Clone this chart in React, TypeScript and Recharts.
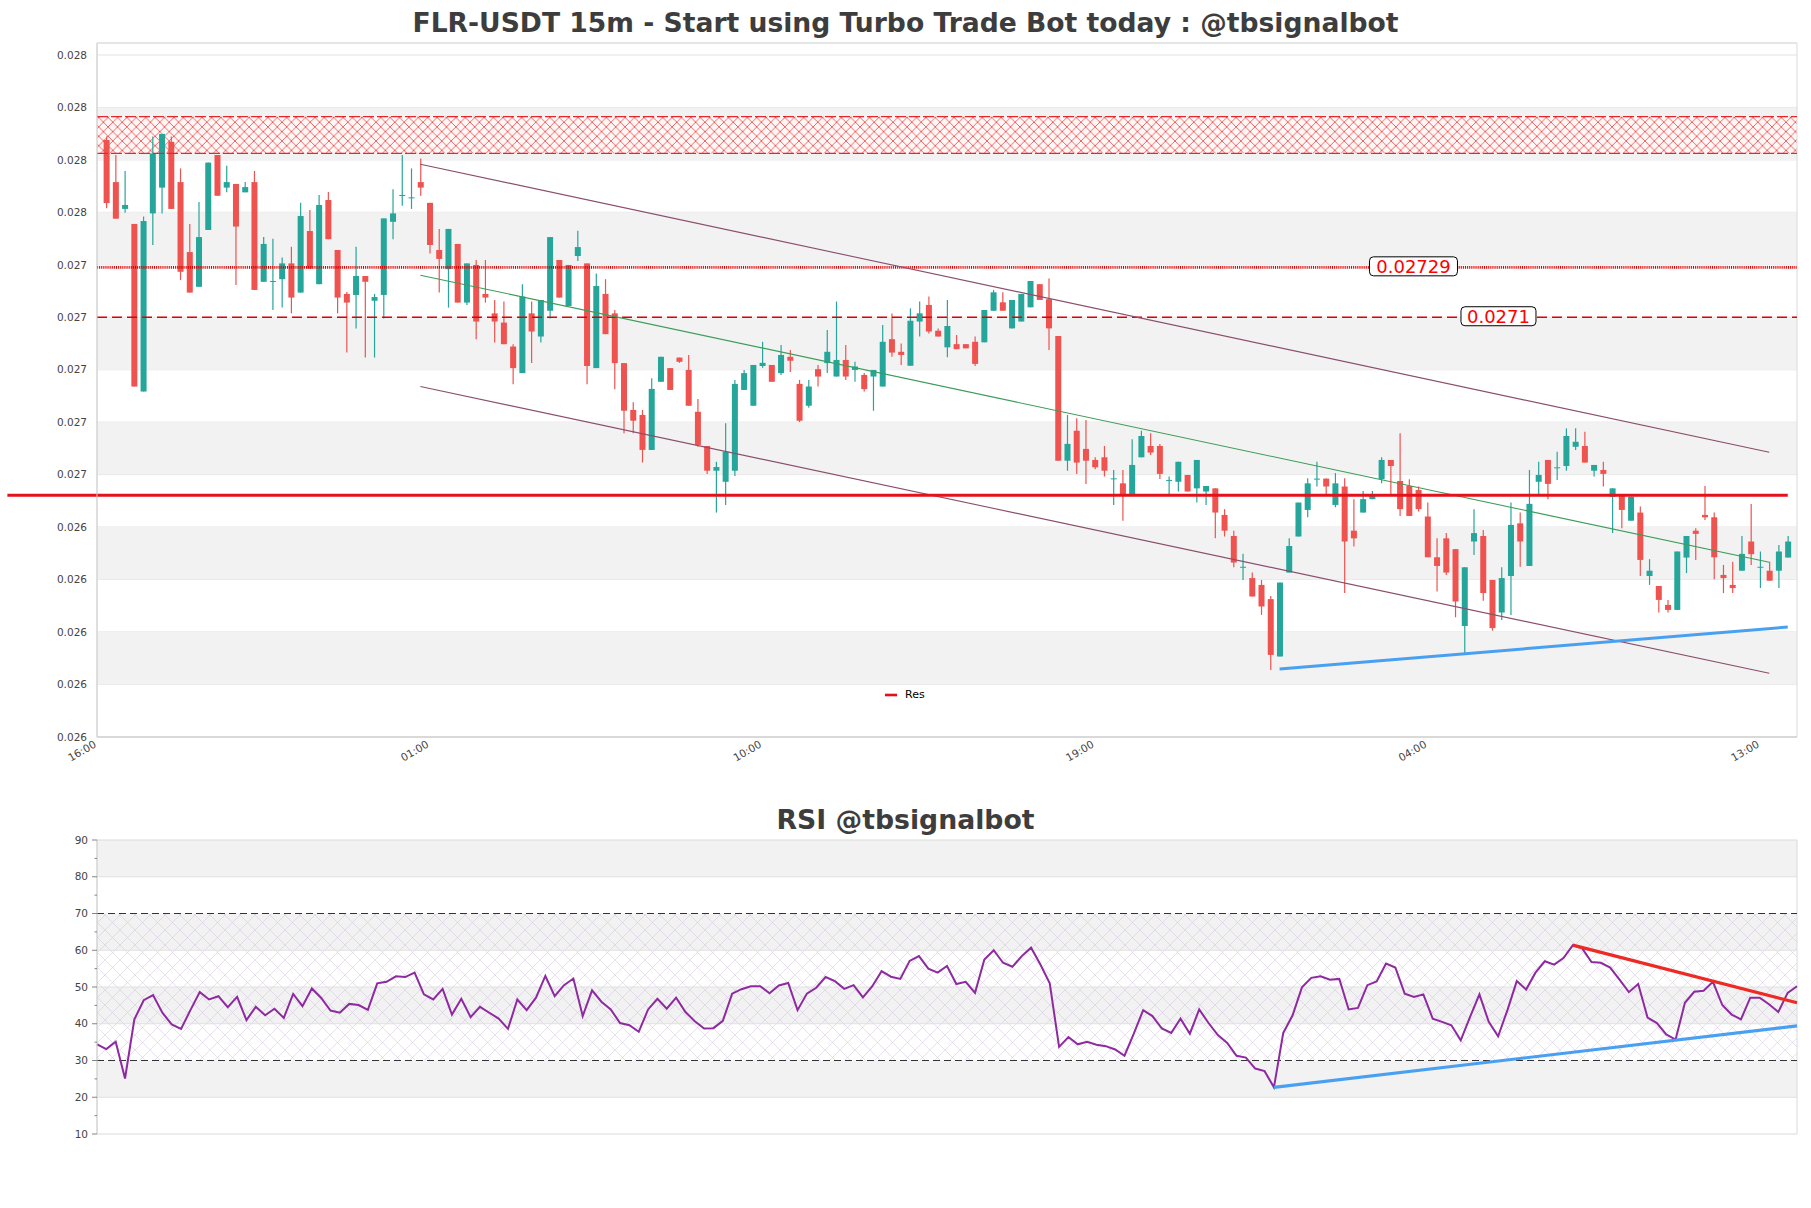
import React from 'react';
import {
  ComposedChart,
  Bar,
  Line,
  XAxis,
  YAxis,
  CartesianGrid,
  ReferenceLine,
  ReferenceArea,
} from 'recharts';

// ---------------- DATA ----------------
const chartTitle = 'FLR-USDT 15m - Start using Turbo Trade Bot today : @tbsignalbot';
const rsiTitle = 'RSI @tbsignalbot';

// x tick positions (candle index) and their labels
const timeTickIdx = [-1, 35, 71, 107, 143, 179];
const timeLabels = ['16:00', '01:00', '10:00', '19:00', '04:00', '13:00'];

const opens = [
  0.027777, 0.027617, 0.027515, 0.027458, 0.026821, 0.027498, 0.027596, 0.02777, 0.027617, 0.027351,
  0.027219, 0.027435, 0.02772, 0.027596, 0.02761, 0.027578, 0.027617, 0.027238, 0.027238, 0.027248,
  0.027308, 0.027197, 0.027431, 0.027229, 0.027549, 0.027359, 0.027192, 0.027188, 0.02726, 0.027166,
  0.027188, 0.027466, 0.027565, 0.027557, 0.027617, 0.027538, 0.027359, 0.027286, 0.027382, 0.027159,
  0.027302, 0.027192, 0.027118, 0.027083, 0.026992, 0.026891, 0.027118, 0.02703, 0.027128, 0.027321,
  0.027146, 0.027336, 0.027308, 0.02691, 0.027192, 0.027118, 0.026929, 0.026751, 0.026732, 0.026599,
  0.026858, 0.02691, 0.02695, 0.026903, 0.026744, 0.026614, 0.02652, 0.026478, 0.02652, 0.026827,
  0.026767, 0.026918, 0.026922, 0.026891, 0.026953, 0.02685, 0.026767, 0.026906, 0.026929, 0.026878,
  0.026941, 0.026903, 0.026884, 0.026878, 0.02684, 0.02702, 0.026972, 0.026919, 0.027087, 0.02715,
  0.027052, 0.026989, 0.027001, 0.027001, 0.02701, 0.027008, 0.027128, 0.02716, 0.027061, 0.027087,
  0.027141, 0.027229, 0.027172, 0.027032, 0.026558, 0.026672, 0.026603, 0.026561, 0.026571, 0.026489,
  0.026472, 0.026424, 0.026571, 0.026614, 0.026614, 0.026482, 0.026478, 0.026504, 0.026453, 0.026441,
  0.026453, 0.026352, 0.026272, 0.026153, 0.026112, 0.026086, 0.026032, 0.025814, 0.026133, 0.02627,
  0.026371, 0.026488, 0.02649, 0.02639, 0.02646, 0.026292, 0.026361, 0.026412, 0.026488, 0.026561,
  0.026481, 0.026462, 0.026447, 0.026346, 0.026191, 0.026263, 0.026222, 0.02593, 0.026251, 0.026272,
  0.026105, 0.025981, 0.02612, 0.02632, 0.026158, 0.026478, 0.026561, 0.026531, 0.026538, 0.026611,
  0.026614, 0.02652, 0.026523, 0.026421, 0.026424, 0.02633, 0.026361, 0.02612, 0.026082, 0.02601,
  0.025991, 0.02619, 0.026292, 0.026352, 0.026343, 0.026124, 0.026086, 0.02614, 0.026251, 0.026153,
  0.02614, 0.02614, 0.02619,
];

const highs = [
  0.02779, 0.02772, 0.027659, 0.027458, 0.027486, 0.02779, 0.0278, 0.02779, 0.027669, 0.027458,
  0.027541, 0.027691, 0.02772, 0.027679, 0.02761, 0.027617, 0.027659, 0.027408, 0.027402, 0.02733,
  0.027371, 0.027538, 0.027511, 0.027568, 0.027579, 0.027359, 0.027199, 0.027371, 0.02726, 0.027192,
  0.027479, 0.02759, 0.02772, 0.027669, 0.027707, 0.027538, 0.027439, 0.027439, 0.027382, 0.027308,
  0.027321, 0.027321, 0.027169, 0.027163, 0.027001, 0.027229, 0.027163, 0.027169, 0.027408, 0.027321,
  0.027302, 0.027432, 0.027308, 0.02727, 0.027248, 0.027131, 0.026929, 0.02678, 0.026751, 0.026871,
  0.026953, 0.02691, 0.02695, 0.02696, 0.026793, 0.026614, 0.026554, 0.0267, 0.026865, 0.026903,
  0.026922, 0.02701, 0.026922, 0.026998, 0.026979, 0.026865, 0.026865, 0.026922, 0.027055, 0.027163,
  0.026998, 0.026934, 0.026891, 0.026903, 0.027074, 0.027118, 0.027004, 0.027137, 0.027163, 0.027182,
  0.027061, 0.027169, 0.027036, 0.027001, 0.02703, 0.027131, 0.027207, 0.027198, 0.027169, 0.027192,
  0.027241, 0.027229, 0.027251, 0.027032, 0.026732, 0.026719, 0.026713, 0.026571, 0.026614, 0.026523,
  0.026523, 0.02664, 0.026672, 0.026662, 0.026622, 0.026498, 0.026554, 0.026504, 0.026561, 0.026462,
  0.026453, 0.026374, 0.026292, 0.026204, 0.026133, 0.026105, 0.026044, 0.026095, 0.026263, 0.026399,
  0.026491, 0.026554, 0.02649, 0.026511, 0.026491, 0.026412, 0.026443, 0.026443, 0.026571, 0.026561,
  0.026662, 0.026488, 0.02646, 0.026399, 0.026263, 0.026283, 0.026222, 0.026153, 0.026374, 0.026295,
  0.026105, 0.026153, 0.026399, 0.026361, 0.026523, 0.026554, 0.026561, 0.026592, 0.026681, 0.026681,
  0.026668, 0.026542, 0.026554, 0.026453, 0.026424, 0.026421, 0.026384, 0.026184, 0.026082, 0.026029,
  0.026213, 0.026272, 0.026301, 0.026462, 0.026361, 0.026162, 0.026174, 0.026272, 0.026394, 0.026213,
  0.026174, 0.026238, 0.026272,
];

const lows = [
  0.027518, 0.027478, 0.0275, 0.02684, 0.026821, 0.027378, 0.027498, 0.027515, 0.027245, 0.027197,
  0.027219, 0.027435, 0.027565, 0.027578, 0.027226, 0.027578, 0.027207, 0.027238, 0.027131, 0.02714,
  0.027118, 0.027197, 0.027288, 0.027229, 0.0274, 0.027118, 0.026969, 0.027061, 0.02695, 0.02695,
  0.027099, 0.0274, 0.027527, 0.027515, 0.027565, 0.027346, 0.027197, 0.02714, 0.027159, 0.02715,
  0.02702, 0.027159, 0.027007, 0.027001, 0.026849, 0.026891, 0.026929, 0.027007, 0.027099, 0.027178,
  0.027146, 0.027317, 0.026849, 0.02691, 0.027039, 0.02683, 0.026662, 0.026662, 0.026551, 0.026599,
  0.026858, 0.026827, 0.02693, 0.026767, 0.026611, 0.026508, 0.026361, 0.02639, 0.0265, 0.026827,
  0.026767, 0.026911, 0.026858, 0.026884, 0.026895, 0.026705, 0.026759, 0.02684, 0.026891, 0.026878,
  0.026865, 0.026858, 0.026821, 0.026748, 0.02684, 0.026953, 0.026922, 0.026919, 0.02703, 0.027042,
  0.02703, 0.026951, 0.026982, 0.026985, 0.026918, 0.027008, 0.027127, 0.027128, 0.027061, 0.027087,
  0.027141, 0.027169, 0.026979, 0.026558, 0.02652, 0.026508, 0.02647, 0.026526, 0.026498, 0.02639,
  0.02633, 0.026424, 0.026571, 0.02658, 0.026489, 0.026428, 0.026441, 0.026441, 0.026399, 0.02639,
  0.026263, 0.02627, 0.026153, 0.026105, 0.026042, 0.025972, 0.025763, 0.025814, 0.026133, 0.02627,
  0.026343, 0.02646, 0.026428, 0.026381, 0.026055, 0.026232, 0.026361, 0.026412, 0.026472, 0.026428,
  0.026348, 0.026348, 0.026365, 0.026191, 0.026061, 0.026124, 0.025963, 0.02582, 0.0262, 0.026026,
  0.025912, 0.025953, 0.025972, 0.026155, 0.026158, 0.026428, 0.026412, 0.026485, 0.02652, 0.026599,
  0.026551, 0.026498, 0.02646, 0.026283, 0.026301, 0.02633, 0.02612, 0.026086, 0.025981, 0.025981,
  0.025991, 0.026131, 0.026181, 0.026333, 0.026108, 0.026055, 0.026055, 0.02614, 0.026162, 0.026074,
  0.026102, 0.026074, 0.02619,
];

const closes = [
  0.027537, 0.027478, 0.02753, 0.02684, 0.027469, 0.027726, 0.0278, 0.027515, 0.027276, 0.027197,
  0.027408, 0.027691, 0.027565, 0.027617, 0.027448, 0.027598, 0.027207, 0.027382, 0.027241, 0.027308,
  0.027178, 0.027488, 0.027288, 0.02753, 0.0274, 0.027178, 0.027159, 0.02726, 0.027238, 0.02718,
  0.027479, 0.027498, 0.027568, 0.027559, 0.027596, 0.027378, 0.027325, 0.027439, 0.027159, 0.027308,
  0.027087, 0.027178, 0.027087, 0.027001, 0.02691, 0.027182, 0.027049, 0.027169, 0.027408, 0.027178,
  0.027302, 0.02737, 0.026918, 0.027222, 0.027039, 0.026929, 0.026748, 0.02671, 0.026599, 0.026831,
  0.026953, 0.026827, 0.026934, 0.026767, 0.026618, 0.02652, 0.026534, 0.026592, 0.02685, 0.026891,
  0.026922, 0.02693, 0.026858, 0.02696, 0.026938, 0.02671, 0.02684, 0.026878, 0.026972, 0.026941,
  0.026878, 0.026916, 0.02683, 0.026903, 0.02701, 0.026969, 0.02696, 0.02709, 0.027118, 0.027049,
  0.02703, 0.02707, 0.026982, 0.026985, 0.026926, 0.027131, 0.027198, 0.027128, 0.027169, 0.027192,
  0.027241, 0.027169, 0.027061, 0.026558, 0.026622, 0.026551, 0.026558, 0.026533, 0.02652, 0.026491,
  0.026424, 0.026542, 0.026652, 0.026589, 0.026508, 0.026485, 0.026554, 0.026441, 0.026561, 0.026462,
  0.026361, 0.026292, 0.026171, 0.026155, 0.026042, 0.026004, 0.02582, 0.026095, 0.026234, 0.026399,
  0.026472, 0.02649, 0.02646, 0.026472, 0.026251, 0.026263, 0.026412, 0.026431, 0.026561, 0.026538,
  0.026374, 0.026348, 0.026374, 0.026191, 0.026158, 0.026133, 0.026023, 0.026153, 0.026283, 0.026055,
  0.025922, 0.026112, 0.026314, 0.026251, 0.026394, 0.026504, 0.02647, 0.026533, 0.026652, 0.02663,
  0.026551, 0.026542, 0.026508, 0.026453, 0.026371, 0.026421, 0.026181, 0.02614, 0.026029, 0.025991,
  0.026213, 0.026272, 0.02628, 0.026343, 0.026191, 0.026112, 0.026074, 0.026204, 0.026203, 0.026155,
  0.026102, 0.026213, 0.026251,
];

const rsiValues = [
  34.4, 33.1, 35.1, 25.1, 41.2, 46.4, 47.8, 43.0, 39.8, 38.6,
  43.7, 48.6, 46.6, 47.5, 44.5, 47.3, 41.0, 44.6, 42.3, 44.1,
  41.6, 48.1, 44.8, 49.6, 47.0, 43.6, 43.0, 45.4, 45.1, 43.8,
  51.0, 51.4, 52.9, 52.7, 53.9, 48.0, 46.6, 49.5, 42.5, 46.8,
  41.8, 44.6, 43.0, 41.4, 38.6, 46.6, 43.7, 47.1, 53.0, 47.5,
  50.5, 52.3, 42.1, 49.1, 46.0, 43.9, 40.2, 39.6, 37.8, 43.9,
  46.8, 44.1, 47.1, 43.2, 40.7, 38.7, 38.8, 40.8, 48.2, 49.4,
  50.2, 50.2, 48.3, 50.4, 51.1, 43.7, 48.2, 49.8, 52.7, 51.6,
  49.5, 50.5, 47.2, 50.2, 54.3, 52.8, 52.2, 57.1, 58.4, 55.0,
  53.9, 55.7, 50.8, 51.4, 48.4, 57.5, 60.0, 56.6, 55.5, 58.4,
  60.7, 56.1, 51.0, 33.7, 36.4, 34.4, 35.1, 34.3, 33.9, 33.0,
  31.3, 37.3, 43.7, 42.1, 38.7, 37.5, 41.4, 37.3, 43.9, 40.2,
  36.9, 34.8, 31.3, 30.8, 27.8, 27.1, 22.7, 37.5, 42.3, 49.9,
  52.5, 52.9, 52.0, 52.2, 43.9, 44.3, 50.5, 51.5, 56.4, 55.3,
  48.2, 47.3, 48.0, 41.4, 40.5, 39.6, 35.5, 41.9, 48.0, 40.5,
  36.6, 43.7, 51.6, 49.3, 53.9, 57.0, 56.1, 57.9, 61.4, 60.5,
  56.8, 56.6, 55.3, 52.0, 48.6, 50.8, 41.7, 40.2, 37.1, 35.7,
  45.7, 48.7, 49.0, 51.4, 45.1, 42.5, 41.2, 47.1, 47.1, 45.3,
  43.2, 48.4, 50.2,
];

// price axis (tick values read at the gridline positions; labels as printed)
const priceDomain = [0.025508, 0.0281456];
const priceTicks = [
  0.0255085, 0.0257078, 0.0259072, 0.0261065, 0.0263059, 0.0265052, 0.0267046,
  0.0269039, 0.0271033, 0.0273026, 0.027502, 0.0277013, 0.0279007, 0.0281,
];
const priceTickLabels = ['0.026', '0.026', '0.026', '0.026', '0.026', '0.027', '0.027', '0.027', '0.027', '0.027', '0.028', '0.028', '0.028', '0.028'];
const priceBands = [
  [0.0257078, 0.0259072], [0.0261065, 0.0263059], [0.0265052, 0.0267046],
  [0.0269039, 0.0271033], [0.0273026, 0.027502], [0.0277013, 0.0279007],
];

// levels & zones
const supplyZone = [0.027726, 0.027866];
const dottedLevel = 0.027293;
const dashedLevel = 0.0271033;
const dottedText = '0.02729';
const dashedText = '0.0271';
const resLevel = 0.026427;
const resStartIdx = -10.7;
const resEndIdx = 182;

// channel & trend lines: [index, price]
const channelUpper = [[34, 0.027685], [180, 0.02659]];
const channelMid = [[34, 0.027263], [180, 0.026172]];
const channelLower = [[34, 0.02684], [180, 0.02575]];
const supportLine = [[127, 0.025766], [182, 0.025926]];

// RSI axis & lines
const rsiDomain = [10, 90];
const rsiTicks = [10, 15, 20, 25, 30, 35, 40, 45, 50, 55, 60, 65, 70, 75, 80, 85, 90];
const rsiGrid = [20, 40, 50, 60, 80];
const rsiBands = [[20, 30], [40, 50], [60, 70], [80, 90]];
const rsiLevels = [30, 70];
const rsiResistance = [[158, 61.4], [182, 45.7]];
const rsiSupport = [[126, 22.7], [182, 39.4]];

// ---------------- BUILD ----------------
const candleData = opens.map((o, i) => ({
  i,
  open: o,
  high: highs[i],
  low: lows[i],
  close: closes[i],
  range: [lows[i], highs[i]],
}));

const rsiData = rsiValues.map((v, j) => ({ j, rsi: v }));

const FONT = "'DejaVu Sans', 'Liberation Sans', sans-serif";
const GREEN = '#26a69a';
const RED = '#ef5350';

const seg = (pts: number[][]) => pts.map(([x, y]) => ({ x, y }));

const Candle = (props: any) => {
  let { x, y, width, height } = props;
  const p = props.payload;
  if (!p || x == null || y == null) return null;
  if (height < 0) {
    y = y + height;
    height = -height;
  }
  const span = p.high - p.low;
  const k = span > 0 ? height / span : 0;
  const toY = (v: number) => y + (p.high - v) * k;
  const cx = x + width / 2;
  const up = p.close >= p.open;
  const color = up ? GREEN : RED;
  const top = toY(Math.max(p.open, p.close));
  const bot = toY(Math.min(p.open, p.close));
  return (
    <g>
      <line x1={cx} x2={cx} y1={y} y2={y + height} stroke={color} strokeWidth={1.2} />
      <rect x={x} y={top} width={width} height={Math.max(bot - top, 1)} fill={color} />
    </g>
  );
};

const TimeTick = (props: any) => {
  const { x, y, payload } = props;
  const idx = timeTickIdx.indexOf(payload.value);
  const label = idx >= 0 ? timeLabels[idx] : '';
  const ax = x;
  const ay = y + 1.5;
  return (
    <text
      x={ax}
      y={ay}
      transform={`rotate(-30 ${ax} ${ay})`}
      textAnchor="end"
      fontSize={10.5}
      fill="#444"
      fontFamily={FONT}
    >
      {label}
    </text>
  );
};

const RsiTick = (props: any) => {
  const { x, y, payload } = props;
  const v = payload.value;
  const major = v % 10 === 0;
  return (
    <g>
      <line x1={x - (major ? 5 : 2.5)} x2={x} y1={y} y2={y} stroke="#666" strokeWidth={0.8} />
      {major && (
        <text x={x - 9} y={y} dy="0.35em" textAnchor="end" fontSize={10.5} fill="#444" fontFamily={FONT}>
          {v}
        </text>
      )}
    </g>
  );
};

const makeLevelLabel = (text: string, frac: number, boxW: number) => (props: any) => {
  const vb = props.viewBox || {};
  const cx = vb.x + vb.width * frac;
  const cy = vb.y;
  const h = 19;
  return (
    <g>
      <rect x={cx - boxW / 2} y={cy - h / 2 - 1} width={boxW} height={h} rx={4} ry={4} fill="#fff" stroke="#000" strokeWidth={1} />
      <text x={cx} y={cy - 1} dy="0.36em" textAnchor="middle" fontSize={18} fill="#f00" fontFamily={FONT}>
        {text}
      </text>
    </g>
  );
};

const DottedLabel = makeLevelLabel(dottedText, 0.7744, 88);
const DashedLabel = makeLevelLabel(dashedText, 0.8244, 75);

export default function App() {
  return (
    <div style={{ position: 'absolute', left: 0, top: 0, width: 1811, height: 1208, background: '#fff', fontFamily: FONT }}>
      <svg width={0} height={0} style={{ position: 'absolute' }}>
        <defs>
          <pattern id="hatchRed" width="9.4" height="9.4" patternUnits="userSpaceOnUse">
            <rect width="9.4" height="9.4" fill="#fff7f5" />
            <path d="M0,0 L9.4,9.4 M9.4,0 L0,9.4" stroke="#e8262a" strokeWidth="0.7" />
          </pattern>
          <pattern id="hatchPurple" width="15" height="15" patternUnits="userSpaceOnUse">
            <path d="M0,0 L15,15 M15,0 L0,15" stroke="#cfc0dc" strokeWidth="0.5" />
          </pattern>
        </defs>
      </svg>

      {/* Price chart */}
      <div style={{ position: 'absolute', left: 0, top: 0 }}>
        <ComposedChart width={1811} height={790} data={candleData} margin={{ top: 43, right: 14, bottom: 13, left: 37 }}>
          {priceBands.map(([a, b], k) => (
            <ReferenceArea key={'b' + k} y1={a} y2={b} fill="#f2f2f2" fillOpacity={1} stroke="none" />
          ))}
          <CartesianGrid vertical={false} stroke="#e2e2e2" />
          <XAxis
            dataKey="i"
            type="number"
            domain={[-1, 183]}
            ticks={timeTickIdx}
            interval={0}
            allowDataOverflow
            tickLine={false}
            axisLine={{ stroke: '#d0d0d0' }}
            tick={<TimeTick />}
            height={40}
          />
          <YAxis
            type="number"
            domain={priceDomain}
            ticks={priceTicks}
            interval={0}
            allowDataOverflow
            tickLine={false}
            tickMargin={4}
            axisLine={{ stroke: '#d0d0d0' }}
            tickFormatter={(v: number, idx: number) => priceTickLabels[idx] ?? ''}
            tick={{ fontSize: 10.5, fill: '#444', fontFamily: FONT }}
            width={60}
          />
          <ReferenceArea y1={supplyZone[0]} y2={supplyZone[1]} fill="url(#hatchRed)" fillOpacity={1} stroke="none" />
          <ReferenceLine y={supplyZone[1]} stroke="#e8262a" strokeWidth={1.2} strokeDasharray="11 3" />
          <ReferenceLine y={supplyZone[0]} stroke="#e8262a" strokeWidth={1.2} strokeDasharray="11 3" />
          <ReferenceLine y={dottedLevel} stroke="#d80000" strokeWidth={2.6} strokeDasharray="1 0.9" label={<DottedLabel />} />
          <ReferenceLine y={dashedLevel} stroke="#e00000" strokeWidth={1.4} strokeDasharray="10 5" label={<DashedLabel />} />
          <ReferenceLine segment={seg(channelUpper)} stroke="#8a4f6c" strokeWidth={1.1} />
          <ReferenceLine segment={seg(channelLower)} stroke="#8a4f6c" strokeWidth={1.1} />
          <ReferenceLine segment={seg(channelMid)} stroke="#3c9d58" strokeWidth={1.1} />
          <Bar dataKey="range" shape={<Candle />} barSize={6} isAnimationActive={false} />
          <ReferenceLine
            segment={[{ x: resStartIdx, y: resLevel }, { x: resEndIdx, y: resLevel }]}
            ifOverflow="visible"
            stroke="#e3111b"
            strokeWidth={3}
          />
          <ReferenceLine segment={seg(supportLine)} stroke="#4aa0f0" strokeWidth={3} />
          <ReferenceArea x1={-1} x2={183} y1={priceDomain[0]} y2={priceDomain[1]} fill="none" stroke="#dadada" strokeWidth={1} />
        </ComposedChart>
      </div>

      {/* Legend */}
      <div style={{ position: 'absolute', left: 884, top: 686, display: 'flex', alignItems: 'center', fontFamily: FONT, fontSize: 11, color: '#000' }}>
        <svg width={14} height={16}>
          <line x1={1} x2={13} y1={9} y2={9} stroke="#e3111b" strokeWidth={2.6} />
        </svg>
        <span style={{ marginLeft: 7 }}>Res</span>
      </div>

      {/* RSI chart */}
      <div style={{ position: 'absolute', left: 0, top: 780 }}>
        <ComposedChart width={1811} height={400} data={rsiData} margin={{ top: 60, right: 14, bottom: 46, left: 37 }}>
          {rsiBands.map(([a, b], k) => (
            <ReferenceArea key={'rb' + k} y1={a} y2={b} fill="#f2f2f2" fillOpacity={1} stroke="none" />
          ))}
          <ReferenceArea y1={30} y2={70} fill="url(#hatchPurple)" fillOpacity={1} stroke="none" />
          {rsiGrid.map((g) => (
            <ReferenceLine key={'g' + g} y={g} stroke="#e0e0e0" strokeWidth={1} />
          ))}
          <XAxis dataKey="j" type="number" domain={[0, 182]} hide />
          <YAxis
            type="number"
            domain={rsiDomain}
            ticks={rsiTicks}
            interval={0}
            tickLine={false}
            tickSize={0}
            tickMargin={0}
            axisLine={{ stroke: '#d0d0d0' }}
            tick={<RsiTick />}
            width={60}
          />
          {rsiLevels.map((l) => (
            <ReferenceLine key={'l' + l} y={l} stroke="#333" strokeWidth={1.2} strokeDasharray="7 4" />
          ))}
          <Line dataKey="rsi" stroke="#8e2aa0" strokeWidth={2} dot={false} isAnimationActive={false} />
          <ReferenceLine segment={seg(rsiResistance)} stroke="#ee2a24" strokeWidth={3.2} />
          <ReferenceLine segment={seg(rsiSupport)} stroke="#4aa0f0" strokeWidth={3.2} />
          <ReferenceArea x1={0} x2={182} y1={10} y2={90} fill="none" stroke="#dadada" strokeWidth={1} />
        </ComposedChart>
      </div>

      {/* Titles */}
      <svg width={1811} height={1208} style={{ position: 'absolute', left: 0, top: 0, pointerEvents: 'none' }}>
        <text x={905.5} y={31.5} textAnchor="middle" fontSize={26.6} fontWeight="bold" fill="#3d3d3d" fontFamily={FONT}>
          {chartTitle}
        </text>
        <text x={905.5} y={829} textAnchor="middle" fontSize={26.7} fontWeight="bold" fill="#3d3d3d" fontFamily={FONT}>
          {rsiTitle}
        </text>
      </svg>
    </div>
  );
}
